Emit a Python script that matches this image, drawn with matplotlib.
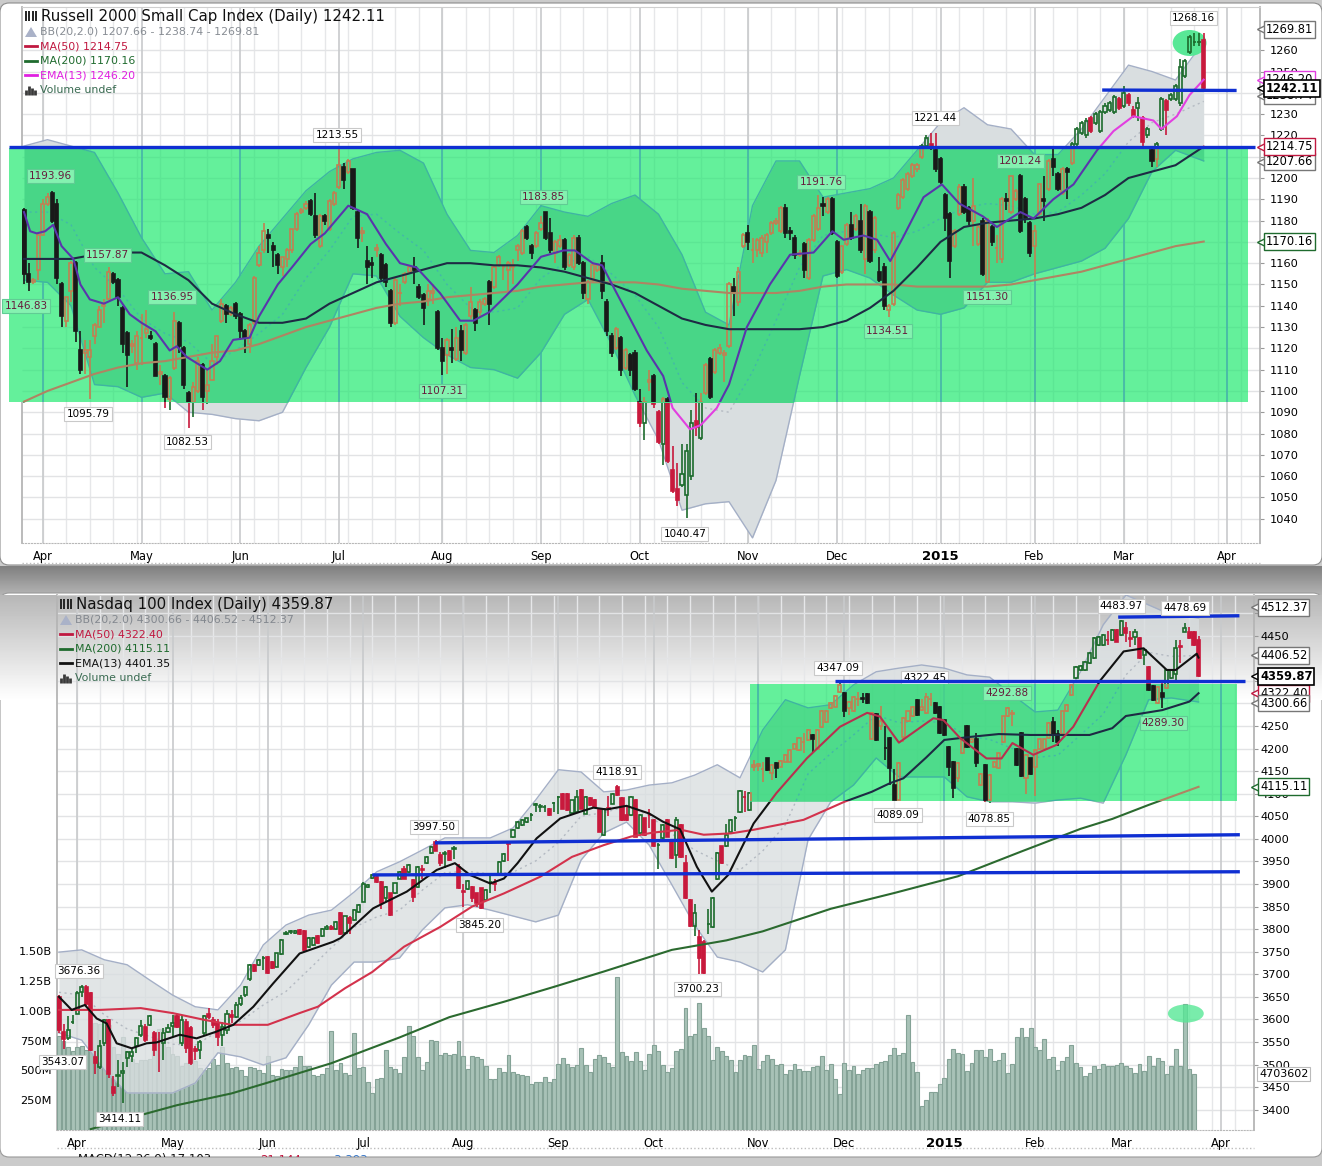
import numpy as np
import matplotlib
matplotlib.use("Agg")
import matplotlib.pyplot as plt
from matplotlib.patches import Rectangle, Ellipse, FancyBboxPatch, Polygon

W, H = 1322, 1166

months = ["Apr", "May", "Jun", "Jul", "Aug", "Sep", "Oct", "Nov", "Dec", "2015", "Feb", "Mar", "Apr"]
month_days = [4, 25, 46, 67, 89, 110, 131, 154, 173, 195, 215, 234, 256]
line_days = list(range(0, 250, 5)) + [251]

# Russell 2000
rut_open = [1185,1155,1151,1157,1173,1188,1193,1188,1150,1133,
    1147,1160,1119,1118,1116,1126,1130,1140,1143,1155,
    1152,1139,1127,1121,1113,1125,1127,1126,1122,1108,
    1107,1096,1111,1132,1120,1099,1095,1100,1112,1100,
    1105,1116,1133,1140,1136,1141,1136,1128,1122,1132,
    1159,1166,1173,1168,1164,1158,1162,1166,1176,1184,
    1186,1189,1182,1168,1182,1176,1188,1196,1205,1203,
    1204,1184,1174,1161,1160,1166,1164,1159,1147,1132,
    1146,1151,1156,1158,1149,1145,1143,1146,1137,1120,
    1117,1120,1115,1128,1118,1135,1138,1137,1141,1151,
    1149,1159,1158,1157,1158,1166,1165,1177,1168,1168,
    1176,1184,1174,1165,1168,1171,1159,1158,1172,1160,
    1143,1152,1157,1160,1142,1126,1120,1125,1111,1117,
    1118,1095,1085,1104,1107,1090,1075,1096,1063,1054,
    1056,1051,1060,1086,1078,1099,1115,1109,1118,1117,
    1121,1149,1142,1168,1174,1166,1166,1165,1170,1174,
    1179,1175,1186,1175,1172,1164,1169,1153,1171,1176,
    1188,1184,1190,1170,1156,1169,1178,1176,1180,1162,
    1184,1166,1156,1158,1138,1141,1186,1191,1195,1201,
    1204,1210,1215,1216,1213,1209,1192,1183,1168,1183,
    1196,1186,1180,1169,1180,1151,1177,1167,1162,1190,
    1184,1190,1201,1190,1179,1168,1183,1190,1195,1209,
    1202,1193,1204,1207,1216,1221,1220,1228,1226,1222,
    1231,1232,1231,1237,1234,1239,1232,1233,1228,1220,
    1213,1209,1223,1236,1237,1237,1235,1248,1259,1264,
    1264,1265]
rut_close = [1155,1151,1152,1173,1188,1191,1180,1153,1135,1144,
    1160,1128,1110,1119,1119,1131,1138,1141,1156,1151,
    1144,1122,1117,1122,1126,1125,1129,1125,1107,1109,
    1097,1106,1133,1121,1103,1095,1102,1114,1097,1103,
    1114,1126,1141,1136,1139,1135,1128,1125,1131,1153,
    1165,1175,1172,1166,1159,1163,1166,1176,1183,1185,
    1188,1183,1173,1182,1180,1189,1193,1206,1199,1208,
    1186,1172,1175,1158,1159,1167,1153,1151,1132,1152,
    1146,1155,1158,1157,1144,1139,1147,1147,1120,1114,
    1124,1119,1125,1119,1131,1142,1132,1142,1143,1141,
    1158,1163,1158,1160,1159,1168,1175,1172,1165,1174,
    1179,1172,1166,1170,1171,1158,1164,1172,1160,1146,
    1151,1159,1159,1147,1128,1118,1129,1110,1119,1110,
    1101,1085,1095,1105,1094,1076,1096,1067,1053,1049,
    1061,1072,1085,1083,1095,1112,1097,1119,1120,1118,
    1150,1146,1156,1173,1170,1166,1171,1172,1173,1179,
    1180,1186,1174,1174,1164,1165,1157,1171,1182,1186,
    1187,1190,1174,1154,1168,1178,1172,1182,1166,1187,
    1161,1181,1152,1140,1140,1174,1192,1199,1202,1206,
    1206,1215,1219,1214,1204,1198,1181,1161,1175,1196,
    1184,1180,1187,1177,1155,1180,1170,1167,1190,1189,
    1201,1194,1175,1181,1165,1175,1197,1189,1208,1205,
    1195,1204,1203,1216,1223,1226,1227,1222,1230,1231,
    1234,1235,1238,1233,1240,1235,1229,1235,1217,1223,
    1208,1216,1237,1232,1239,1243,1252,1255,1266,1264,
    1264,1242.11]
rut_high = [1186,1160,1153,1174,1190,1193,1194,1190,1151,1144,
    1161,1161,1128,1124,1124,1132,1140,1143,1158,1156,
    1153,1140,1128,1124,1128,1136,1138,1128,1123,1112,
    1108,1107,1137,1133,1121,1100,1104,1116,1113,1110,
    1122,1126,1143,1141,1140,1142,1137,1129,1132,1154,
    1168,1179,1176,1170,1165,1163,1167,1176,1184,1186,
    1189,1190,1193,1183,1183,1190,1194,1214,1207,1209,
    1204,1185,1177,1168,1163,1169,1165,1160,1148,1153,
    1150,1156,1159,1163,1150,1146,1150,1150,1138,1125,
    1125,1129,1130,1131,1132,1149,1139,1143,1144,1152,
    1159,1164,1159,1161,1162,1169,1176,1178,1169,1175,
    1182,1184,1181,1171,1173,1172,1165,1173,1173,1161,
    1152,1160,1160,1164,1143,1127,1130,1126,1120,1118,
    1119,1101,1097,1110,1108,1091,1097,1097,1074,1066,
    1075,1075,1091,1099,1099,1113,1116,1120,1122,1119,
    1151,1153,1158,1174,1178,1172,1172,1173,1174,1180,
    1181,1187,1188,1177,1173,1166,1170,1172,1183,1192,
    1191,1191,1191,1171,1168,1179,1184,1183,1188,1188,
    1185,1182,1163,1160,1141,1175,1193,1200,1203,1207,
    1207,1216,1220,1221,1221,1210,1193,1184,1176,1197,
    1197,1187,1200,1178,1181,1181,1178,1173,1191,1193,
    1201,1195,1202,1191,1180,1178,1197,1201,1209,1214,
    1203,1205,1205,1217,1224,1227,1228,1229,1231,1232,
    1235,1236,1239,1238,1243,1240,1234,1238,1229,1224,
    1214,1217,1238,1237,1240,1244,1256,1256,1267,1268,
    1268,1268]
rut_low = [1150,1147,1150,1152,1173,1187,1179,1150,1130,1130,
    1142,1123,1108,1108,1096,1122,1130,1132,1143,1150,
    1140,1118,1102,1118,1110,1112,1125,1124,1107,1103,
    1092,1091,1110,1118,1101,1082.5,1088,1099,1091,1094,
    1105,1112,1132,1132,1135,1134,1124,1118,1118,1131,
    1158,1165,1165,1158,1155,1154,1158,1165,1175,1183,
    1185,1182,1172,1167,1178,1175,1187,1195,1195,1202,
    1185,1167,1170,1150,1153,1163,1152,1149,1130,1131,
    1140,1150,1155,1150,1143,1131,1140,1141,1119,1107.3,
    1108,1113,1114,1114,1117,1134,1128,1135,1140,1131,
    1148,1158,1152,1147,1150,1161,1164,1171,1162,1167,
    1175,1171,1165,1160,1167,1157,1158,1157,1159,1143,
    1141,1151,1156,1143,1126,1116,1119,1107,1110,1107,
    1100,1083,1077,1100,1092,1075,1065,1066,1052,1046,
    1055,1040.5,1058,1079,1077,1098,1096,1108,1117,1104,
    1120,1135,1140,1167,1166,1160,1163,1163,1165,1173,
    1178,1174,1172,1171,1162,1163,1153,1152,1170,1175,
    1182,1183,1173,1153,1155,1168,1171,1175,1165,1155,
    1160,1165,1151,1138,1134.5,1140,1185,1190,1194,1200,
    1203,1209,1214,1213,1203,1197,1175,1153,1167,1182,
    1183,1178,1168,1168,1154,1151.3,1168,1160,1160,1185,
    1183,1189,1174,1179,1163,1153.6,1182,1180,1194,1201,
    1194,1192,1190,1206,1215,1220,1219,1221,1225,1221,
    1230,1231,1230,1232,1233,1234,1228,1227,1215,1219,
    1205,1205,1222,1220,1236,1236,1234,1247,1258,1262,
    1262,1242]

rut_bb_hi = [1215,1218,1215,1212,1193,1172,1155,1156,1138,1151,1168,1181,1194,1203,1209,1212,1213,1207,1183,1166,
    1165,1173,1187,1184,1182,1188,1192,1183,1164,1137,1131,1187,1208,1208,1191,1193,1195,1200,1213,1226,
    1233,1225,1223,1211,1211,1223,1238,1253,1250,1246,1264]
rut_bb_lo = [1152,1151,1140,1103,1102,1097,1099,1090,1089,1087,1086,1090,1111,1130,1155,1154,1135,1125,1117,1111,
    1110,1106,1118,1136,1143,1122,1098,1077,1044,1047,1048,1031,1058,1107,1154,1157,1153,1145,1138,1136,
    1139,1151,1151,1155,1158,1161,1167,1181,1203,1213,1208]
rut_bb_mid = [1184,1184,1178,1158,1148,1134,1127,1123,1113,1119,1127,1136,1153,1166,1182,1183,1174,1166,1150,1139,
    1137,1139,1153,1160,1163,1155,1145,1130,1104,1092,1090,1109,1133,1158,1173,1175,1174,1172,1175,1181,
    1186,1188,1187,1183,1184,1192,1202,1217,1226,1230,1236]
rut_ma50 = [1162,1162,1162,1164,1165,1165,1159,1152,1141,1136,1132,1132,1134,1141,1146,1151,1154,1157,1160,1160,
    1159,1159,1158,1156,1153,1150,1146,1140,1134,1131,1129,1129,1129,1129,1130,1133,1139,1147,1158,1170,
    1177,1179,1180,1181,1183,1186,1192,1200,1203,1206,1214.75]
rut_ma200 = [1095,1100,1104,1108,1111,1113,1114,1116,1118,1119,1122,1126,1130,1133,1136,1139,1141,1142,1144,1145,
    1146,1147,1149,1150,1151,1151,1151,1150,1148,1147,1146,1146,1146,1147,1149,1150,1150,1150,1149,1149,
    1149,1149,1150,1152,1154,1156,1159,1162,1165,1168,1170.16]
rut_ema_days = [0,1.3,2.7,4.5,6.2,8,10.5,12,14,17,20,22.5,25,28,31,32.5,34.6,39,41.7,44.5,48,50,54,57,61,64,69,73,77,80,83.5,
    88.5,92.8,95.6,99,105,110,114.8,117.2,121,123,126.8,132.5,136,138,141.7,144,147.4,150,153.8,158.7,163,168,
    172,174.4,178.6,181.5,184.3,187,191.4,195.3,199,204,207,212,214.8,219,223.3,228.3,231.8,236,240.3,242,245.3,248,251]
rut_ema = [1184,1175,1174,1175,1178,1168,1162,1150,1143,1141,1144,1136,1132,1128,1119,1121,1116,1110,1114,1124,1125,1135,1150,1158,1169,1174,1187,1183,1169,1160,1158,
    1146,1133,1133,1137,1150,1163,1166,1166,1160,1159,1143,1119,1107,1092,1082,1084,1092,1103,1130,1150,1164,1165,
    1175,1171,1173,1171,1161,1172,1191,1197,1188,1182,1177,1184,1181,1190,1197,1213,1222,1229,1227,1223,1229,1239,1246.2]

rut_label_text = ["1146.83","1193.96","1157.87","1136.95","1095.79","1082.53","1213.55","1107.31",
    "1183.85","1040.47","1191.76","1134.51","1221.44","1201.24","1151.30","1268.16"]
rut_label_days = [0.4,5.7,17.7,31.5,13.6,34.7,66.6,89,110.6,140.6,169.6,183.8,193.9,212,204.9,248.9]
rut_label_prices = [1140,1201,1164,1144,1089,1076,1220,1100,1191,1033,1198,1128,1228,1208,1144,1275]
rut_ticks = list(range(1040, 1261, 10))
rut_tags = [1269.81, 1207.66, 1214.75, 1170.16, 1246.20, 1238.74, 1242.11]
rut_legend = ["BB(20,2.0) 1207.66 - 1238.74 - 1269.81", "MA(50) 1214.75", "MA(200) 1170.16", "EMA(13) 1246.20", "Volume undef"]
rut_levels = [([-3.2, 262], [1214.6, 1214.6]), ([229.4, 258], [1241.3, 1241.1])]
rut_zone = (-3.2, 260.4, 1095, 1214.1)

# Nasdaq 100
ndx_open = [3650,3573,3558,3595,3613,3660,3672,3658,3517,3495,
    3547,3598,3451,3474,3481,3514,3518,3540,3565,3584,
    3588,3569,3551,3547,3572,3585,3607,3547,3595,3580,
    3535,3532,3569,3612,3598,3591,3565,3577,3610,3605,
    3634,3654,3689,3720,3720,3735,3738,3728,3717,3745,
    3790,3793,3792,3797,3795,3760,3765,3784,3785,3800,
    3805,3800,3835,3791,3824,3820,3838,3861,3893,3913,
    3916,3905,3868,3879,3879,3912,3934,3927,3908,3894,
    3932,3947,3969,3992,3964,3967,3973,3978,3938,3885,
    3888,3894,3879,3890,3864,3905,3901,3920,3950,3990,
    4003,4023,4030,4038,4053,4075,4071,4070,4067,4080,
    4092,4100,4100,4057,4060,4108,4056,4090,4086,4067,
    4008,4068,4078,4115,4090,4052,4053,4086,4012,4045,
    4053,4042,3986,4001,4042,3994,3964,4030,3946,3864,
    3806,3783,3772,3812,3805,3910,3983,3983,4016,4045,
    4060,4093,4064,4160,4162,4155,4178,4145,4167,4160,
    4171,4171,4200,4197,4215,4219,4230,4200,4248,4259,
    4289,4293,4326,4324,4289,4282,4309,4311,4321,4222,
    4276,4250,4202,4223,4119,4087,4226,4260,4271,4307,
    4285,4278,4309,4300,4293,4263,4204,4170,4134,4189,
    4250,4215,4222,4119,4163,4087,4160,4156,4215,4271,
    4277,4200,4234,4134,4178,4160,4200,4200,4223,4259,
    4233,4233,4282,4319,4356,4374,4374,4389,4400,4429,
    4429,4441,4440,4463,4451,4466,4444,4448,4444,4407,
    4381,4339,4300,4322,4333,4356,4366,4426,4459,4459,
    4459,4440]
ndx_close = [3576,3556,3577,3595,3658,3672,3635,3532,3503,3540,
    3598,3480,3436,3477,3485,3528,3528,3558,3586,3554,
    3608,3532,3550,3569,3582,3592,3584,3598,3536,3503,
    3530,3551,3607,3605,3588,3562,3584,3613,3606,3632,
    3647,3672,3720,3708,3732,3735,3702,3713,3746,3776,
    3792,3795,3795,3790,3754,3780,3780,3770,3800,3805,
    3800,3815,3790,3828,3813,3842,3853,3899,3898,3920,
    3905,3857,3894,3831,3901,3927,3912,3942,3872,3938,
    3930,3960,3982,3974,3946,3968,3953,3979,3890,3883,
    3907,3868,3857,3846,3886,3905,3900,3949,3966,3989,
    4019,4038,4041,4045,4053,4076,4072,4070,4053,4080,
    4093,4067,4064,4085,4093,4067,4093,4075,4071,4016,
    4067,4067,4100,4097,4042,4042,4093,4005,4053,4008,
    4052,3983,3986,4030,4005,3957,4042,3960,3868,3806,
    3835,3735,3702,3812,3868,3969,3946,4008,4042,4046,
    4105,4092,4101,4164,4165,4155,4153,4163,4156,4173,
    4186,4197,4211,4223,4215,4241,4221,4241,4284,4284,
    4300,4316,4341,4282,4304,4315,4309,4310,4300,4278,
    4219,4262,4201,4156,4086,4167,4267,4282,4293,4274,
    4293,4315,4309,4278,4234,4230,4160,4112,4167,4222,
    4204,4220,4167,4143,4086,4141,4171,4189,4271,4289,
    4278,4163,4138,4186,4144,4197,4222,4220,4256,4230,
    4215,4282,4296,4341,4381,4383,4392,4411,4444,4448,
    4452,4440,4463,4437,4483,4455,4443,4459,4400,4418,
    4330,4308,4337,4315,4374,4374,4422,4425,4466,4444,
    4430,4359.87]
ndx_high = [3655,3590,3607,3610,3662,3676.4,3676,3660,3530,3555,
    3600,3600,3475,3510,3505,3530,3535,3560,3598,3590,
    3610,3575,3573,3580,3590,3610,3612,3610,3600,3585,
    3540,3555,3610,3625,3605,3600,3595,3620,3620,3638,
    3655,3675,3722,3722,3734,3740,3740,3730,3748,3778,
    3795,3798,3798,3800,3797,3782,3782,3786,3802,3808,
    3808,3818,3838,3830,3828,3845,3855,3905,3900,3922,
    3918,3907,3896,3881,3903,3929,3940,3944,3910,3940,
    3942,3962,3984,3997.5,3970,3972,3975,3985,3945,3900,
    3909,3896,3881,3892,3888,3920,3910,3951,3968,3995,
    4021,4040,4043,4047,4057,4080,4076,4074,4069,4082,
    4095,4102,4102,4087,4108,4110,4095,4092,4088,4069,
    4069,4095,4102,4118.9,4092,4070,4095,4088,4055,4047,
    4065,4044,3990,4032,4044,3996,4048,4032,3965,3866,
    3856,3798,3776,3845,3870,3971,3985,4032,4044,4050,
    4107,4105,4103,4175,4167,4170,4180,4165,4169,4175,
    4188,4199,4213,4225,4235,4243,4232,4243,4286,4286,
    4302,4318,4347.1,4326,4306,4317,4325,4322,4323,4280,
    4278,4295,4250,4225,4155,4170,4269,4284,4295,4309,
    4310,4322,4322,4302,4295,4265,4206,4172,4169,4224,
    4252,4222,4235,4145,4165,4143,4173,4191,4273,4292.9,
    4285,4202,4236,4188,4180,4199,4224,4222,4258,4270,
    4240,4284,4298,4343,4383,4385,4394,4413,4446,4450,
    4454,4460,4465,4465,4484,4480,4460,4465,4446,4420,
    4383,4341,4339,4352,4376,4376,4440,4440,4478.7,4470,
    4461,4450]
ndx_low = [3570,3535,3555,3590,3611,3650,3630,3530,3480,3490,
    3540,3470,3430,3450,3414.1,3495,3505,3525,3560,3550,
    3585,3520,3484,3510,3570,3560,3580,3540,3525,3500,
    3510,3512,3565,3600,3580,3540,3540,3568,3592,3602,
    3630,3650,3685,3706,3718,3710,3700,3711,3715,3743,
    3788,3790,3790,3788,3752,3758,3763,3768,3783,3798,
    3798,3798,3788,3789,3790,3818,3836,3859,3890,3911,
    3903,3845,3860,3829,3877,3910,3910,3925,3860,3892,
    3910,3945,3967,3972,3940,3935,3951,3955,3888,3850,
    3886,3860,3848,3845.2,3862,3880,3885,3918,3948,3950,
    4001,4021,4028,4036,4040,4060,4060,4060,4051,4060,
    4055,4065,4062,4055,4058,4065,4054,4073,4069,4014,
    4006,4050,4076,4095,4040,4040,4051,4003,4010,4006,
    4025,3981,3934,3999,4003,3955,3935,3958,3866,3804,
    3785,3700.5,3700.2,3790,3803,3908,3944,3981,4014,4018,
    4058,4060,4062,4150,4150,4125,4151,4130,4135,4158,
    4169,4169,4198,4195,4190,4217,4190,4198,4246,4257,
    4287,4291,4324,4270,4275,4280,4295,4300,4298,4220,
    4217,4240,4175,4120,4085,4085,4215,4258,4269,4272,
    4283,4276,4295,4276,4232,4228,4140,4090,4125,4187,
    4202,4213,4160,4117,4081,4079,4158,4154,4213,4269,
    4250,4161,4136,4100,4142,4094,4198,4198,4221,4215,
    4205,4231,4280,4317,4354,4372,4372,4387,4398,4427,
    4427,4430,4438,4435,4449,4435,4425,4430,4398,4385,
    4328,4306,4298,4289.3,4331,4354,4345,4390,4457,4442,
    4428,4358]

ndx_volume = [790,750,700,660,700,705,670,680,900,890,920,880,700,640,780,660,600,560,590,590,
    600,680,850,840,700,640,620,540,560,600,580,520,500,520,600,550,700,560,520,530,
    500,450,530,520,500,480,618,460,450,510,500,500,530,618,540,540,460,450,470,520,
    830,500,560,480,460,815,520,530,400,310,430,440,674,530,510,
    478,612,871,787,612,500,568,759,745,632,646,632,640,745,618,511,618,612,596,539,
    430,430,520,486,632,483,472,464,450,388,407,399,444,407,427,556,601,556,528,545,
    688,545,486,596,632,612,562,528,1284,655,618,576,655,576,506,640,711,660,542,486,
    520,660,680,1026,792,809,1068,857,787,590,697,660,618,590,483,590,632,618,711,511,
    576,632,598,548,553,472,506,553,511,492,492,528,534,618,506,553,430,303,562,500,
    534,472,500,520,520,556,568,576,632,688,626,646,969,568,486,205,253,317,317,388,
    435,598,680,646,640,492,562,674,669,612,680,576,590,646,478,553,781,857,781,857,
    697,674,767,598,612,506,576,612,711,562,528,450,478,534,514,556,539,539,548,562,
    539,520,478,553,497,618,534,601,576,472,539,680,534,1054,511,472]

ndx_bb_hi = [3749,3754,3732,3721,3687,3654,3628,3621,3676,3765,3809,3831,3842,3882,3927,3949,3975,4002,4002,4002,
    4024,4086,4153,4148,4104,4108,4119,4124,4141,4164,4135,4241,4308,4290,4297,4341,4370,4378,4385,4378,
    4363,4358,4319,4281,4285,4370,4474,4540,4518,4496,4489]
ndx_bb_lo = [3570,3554,3488,3437,3437,3437,3459,3526,3517,3499,3515,3588,3676,3727,3727,3736,3798,3847,3854,3842,
    3829,3816,3831,3953,4013,4037,3986,3898,3809,3738,3727,3705,3754,3998,4082,4119,4179,4137,4137,4137,
    4093,4082,4082,4079,4086,4090,4079,4186,4308,4312,4303]
ndx_bb_mid = [3660,3654,3610,3579,3562,3545,3543,3573,3596,3632,3662,3710,3759,3804,3827,3842,3886,3925,3928,3922,
    3926,3951,3992,4050,4058,4072,4052,4011,3975,3951,3931,3973,4031,4144,4189,4230,4274,4257,4261,4257,
    4228,4220,4200,4180,4185,4230,4276,4363,4413,4404,4406]
ndx_ma50_days = [0,9,18,25,32,38,46,53,57,63,69,76,84,91,98,106,113,120,126,131,137,142,148,153,164,173,179,183,186,191,195,201,207,214,227,232,235,243,249,251]
ndx_ma50 = [3621,3621,3625,3614,3599,3588,3588,3614,3628,3669,3705,3761,3805,3850,3879,3916,3960,3986,4005,4014,4020,4009,4012,4020,4042,4082,4104,4123,4134,4180,4219,4226,4232,4230,4230,4245,4272,4285,4304,4322.4]
ndx_ma200_days = [7,18,26,38,48,60,75,86,98,109,120,135,147,155,170,184,198,212,225,232,240,251]
ndx_ma200 = [3357,3388,3410,3436,3466,3503,3560,3605,3639,3672,3706,3754,3775,3795,3845,3880,3917,3972,4022,4044,4075,4115.11]
ndx_ema_days = [0,2.8,5.7,8.3,10.5,12.7,16,19.3,21.5,26.6,30.3,34.7,38.4,42.8,47.2,53,60.4,62,69.2,76.6,83.2,87.2,90.5,95,98,101,105.2,110.4,114.8,117.7,120.6,125,130,133,136.8,140.5,143.8,147.4,153,
    158,164.7,172,178,180.8,185,192.6,194.8,198.5,204.3,207.6,210,214.6,219.7,223.4,229.3,234.5,238.9,244,246,250.6,251]
ndx_ema = [3650,3621,3632,3602,3591,3547,3536,3547,3549,3566,3558,3573,3588,3628,3680,3746,3772,3780,3846,3883,3931,3946,3920,3901,3912,3946,4001,4045,4060,4069,4065,4073,4056,4038,4021,3938,3883,3920,4034,
    4101,4178,4248,4279,4271,4213,4267,4263,4223,4178,4178,4212,4186,4208,4248,4350,4415,4422,4374,4374,4410,4401.35]

ndx_label_text = ["3676.36","3543.07","3414.11","3997.50","3845.20","4118.91","3700.23","4347.09",
    "4292.88","4089.09","4078.85","4289.30","4483.97","4478.69"]
ndx_label_days = [4.4,0.7,13.4,82.6,92.7,122.9,140.7,171.6,208.8,184.8,204.9,243.2,234,248]
ndx_label_prices = [3707,3506,3380,4026,3809,4148,3667,4378,4323,4053,4044,4257,4516,4511]
ndx_ticks = list(range(3400, 4501, 50))
ndx_tags = [4406.52, 4512.37, 4322.40, 4300.66, 4115.11, 4359.87]
ndx_legend = ["BB(20,2.0) 4300.66 - 4406.52 - 4512.37", "MA(50) 4322.40", "MA(200) 4115.11", "EMA(13) 4401.35", "Volume undef"]
ndx_levels = [([233.3, 260], [4491, 4494]), ([171, 261.2], [4350, 4350]), ([82.8, 260.1], [3991, 4009]), ([69, 260.1], [3920, 3927])]
ndx_zone = (152.2, 259.5, 4084, 4343)
vol_ticks = [250, 500, 750, 1000, 1250, 1500]
vol_tick_labels = ["250M", "500M", "750M", "1.00B", "1.25B", "1.50B"]

plain = dict(up="#1c6b2c", down="#c8193c", ma50="#d3324c", ma200="#2b6a2f", band="#d9dee0", edge="#a4afc6", mid="#b4bac2")
zoned = dict(up="#c27f52", down="#191919", ma50="#1e2a44", ma200="#b08462", band="#48d687", edge="#3fb4a2", mid="#43b8a8",
             minor="#5ce694", major="#48b8a8", hline="#5ce694", fill="#64f09b")


def pixel_axes(left, top, right, bottom, zorder):
    ax = fig.add_axes([left / W, 1 - bottom / H, (right - left) / W, (bottom - top) / H], zorder=zorder)
    ax.patch.set_alpha(0)
    return ax


def set_clip(artists, clip):
    if clip is None:
        return
    for a in artists:
        a.set_clip_path(clip)


def draw_candles(ax, o, h, l, c, pal, z, clip=None):
    o, h, l, c = np.array(o), np.array(h), np.array(l), np.array(c)
    days = np.arange(len(o))
    top, bot = np.maximum(o, c), np.minimum(o, c)
    up = c >= o
    artists = []
    for mask, col in ((up, pal["up"]), (~up, pal["down"])):
        artists.append(ax.vlines(days[mask], top[mask], h[mask], color=col, lw=1.2, zorder=z))
        artists.append(ax.vlines(days[mask], l[mask], bot[mask], color=col, lw=1.2, zorder=z))
    artists += list(ax.bar(days[up], (top - bot)[up], bottom=bot[up], width=0.68, facecolor="none",
                           edgecolor=pal["up"], linewidth=1.2, zorder=z))
    artists += list(ax.bar(days[~up], (top - bot)[~up], bottom=bot[~up], width=0.68, facecolor=pal["down"],
                           edgecolor=pal["down"], linewidth=1.2, zorder=z))
    set_clip(artists, clip)


def draw_layer(ax, s, pal, ema_col, z, clip=None):
    artists = [ax.fill_between(line_days, s["lo"], s["hi"], color=pal["band"], lw=0, zorder=z, alpha=s["alpha"])]
    artists += ax.plot(line_days, s["hi"], color=pal["edge"], lw=1, zorder=z + 0.1)
    artists += ax.plot(line_days, s["lo"], color=pal["edge"], lw=1, zorder=z + 0.1)
    artists += ax.plot(line_days, s["mid"], color=pal["mid"], lw=1, ls=(0, (1.5, 2.5)), zorder=z + 0.1)
    set_clip(artists, clip)
    draw_candles(ax, s["o"], s["h"], s["l"], s["c"], pal, z + 1, clip)
    lines = ax.plot(s["ma200_x"], s["ma200"], color=pal["ma200"], lw=1.5, zorder=z + 2)
    lines += ax.plot(s["ma50_x"], s["ma50"], color=pal["ma50"], lw=1.5, zorder=z + 2)
    lines += ax.plot(s["ema_x"], s["ema"], color=ema_col, lw=1.5, zorder=z + 2)
    set_clip(lines, clip)


def draw_price_tag(ax, value, colour, pixel_width, bold=False):
    x = 1 + 6 / pixel_width
    trans = ax.get_yaxis_transform()
    ax.plot([1 + 1 / pixel_width], [value], marker="<", ms=6, mfc="white", mec=colour, mew=1,
            transform=trans, clip_on=False, zorder=50)
    ax.text(x, value, f"{value:.2f}", transform=trans, ha="left", va="center",
            fontsize=8.3, fontweight="bold" if bold else "normal", color="black", clip_on=False, zorder=50,
            bbox=dict(boxstyle="square,pad=0.16", fc="white", ec=colour, lw=1.2 if bold else 1))


def draw_panel(box, s, zone, ticks, ema_plain, ema_zone, tags, tag_colours, volume=None):
    left, top, right, bottom = box
    pw = right - left
    base = pixel_axes(left, top, right, bottom, 2)
    ax = pixel_axes(left, top, right, bottom, 4)
    scale = s["px_per_day"]
    x_lim = ((left - s["px0"]) / scale, (right - s["px0"]) / scale)
    for a in (base, ax):
        a.set_xlim(*x_lim)
        a.set_ylim(*s["ylim"])
        a.autoscale(False)

    # grid stays on the bottom layer so that volume bars cover it
    minor_days = np.arange(4, 262, 5)
    base.vlines(minor_days, *s["ylim"], color="#e6e7e9", lw=1, zorder=1)
    base.vlines(month_days, *s["ylim"], color="#c8cacc", lw=1.2, zorder=1.5)
    base.hlines(ticks, *x_lim, color="#e2e3e5", lw=1, zorder=1)
    base.set_xticks(month_days)
    base.set_xticklabels(months, fontsize=8.3)
    base.get_xticklabels()[9].set_fontweight("bold")
    base.get_xticklabels()[9].set_fontsize(9.5)
    base.tick_params(axis="x", length=0, pad=5)
    base.yaxis.tick_right()
    base.set_yticks(ticks)
    base.set_yticklabels([str(t) for t in ticks], fontsize=8.2)
    base.tick_params(axis="y", length=3, pad=s["tick_pad"], color="#999999")
    for side in ("left", "right"):
        base.spines[side].set_color("#b5b5b5")
        base.spines[side].set_linewidth(1.3)
    base.spines["top"].set_color("#cfcfcf")
    base.spines["bottom"].set_color("#b8b8b8")
    base.spines["bottom"].set_linestyle(":")
    ax.axis("off")

    if volume is not None:
        vol = pixel_axes(left, top, right, bottom, 3)
        vol.set_xlim(*x_lim)
        vol.set_ylim(0, 4493)
        vol.autoscale(False)
        vol.bar(np.arange(len(volume)), volume, width=0.86, color="#a8c2b7", edgecolor="#84a296", linewidth=0.8, zorder=2)
        vol.set_yticks(vol_ticks)
        vol.set_yticklabels(vol_tick_labels, fontsize=8.2)
        vol.tick_params(axis="y", length=0, pad=4)
        vol.set_xticks([])
        for sp in vol.spines.values():
            sp.set_visible(False)
        vol.add_patch(Ellipse((248.2, 978), 7.9, 152, fc="#58e896", ec="none", alpha=0.8, zorder=3))
        vol.text(1 + 5 / pw, 470.36, "4703602", transform=vol.get_yaxis_transform(), ha="left", va="center", fontsize=8, clip_on=False,
                 bbox=dict(boxstyle="square,pad=0.15", fc="white", ec="#bbbbbb", lw=0.8), zorder=9)

    draw_layer(ax, s, plain, ema_plain, 5)
    if volume is None:
        ax.add_patch(Ellipse((248, 1263.4), 7.2, 12.2, fc="#58e896", ec="none", zorder=5.5))

    z0, z1, y0, y1 = zone
    ax.add_patch(Rectangle((z0, y0), z1 - z0, y1 - y0, fc=zoned["fill"], ec="none", clip_on=False, zorder=20))
    clip_left = max(z0, x_lim[0])
    clip = Rectangle((clip_left, y0), z1 - clip_left, y1 - y0, transform=ax.transData)
    zone_grid = [ax.vlines(minor_days, y0, y1, color=zoned["minor"], lw=1, zorder=20.5),
                 ax.vlines(month_days, y0, y1, color=zoned["major"], lw=1.3, zorder=20.6),
                 ax.hlines(ticks, clip_left, z1, color=zoned["hline"], lw=1, zorder=20.5)]
    set_clip(zone_grid, clip)
    draw_layer(ax, s, zoned, ema_zone, 21, clip)

    for days, prices in s["levels"]:
        ax.plot(days, prices, color="#0f2fd2", lw=2.4, solid_capstyle="butt", clip_on=False, zorder=40)

    for text, day, price in zip(s["label_text"], s["label_days"], s["label_prices"]):
        inside = z0 <= day <= z1 and y0 <= price <= y1
        ax.text(day, price, text, ha="center", va="center", fontsize=7.5, clip_on=False, zorder=45,
                color="#651c3c" if inside else "black",
                bbox=dict(boxstyle="square,pad=0.2", fc="#84f2b0" if inside else "white",
                          ec="#60cc94" if inside else "#c9c9c9", lw=0.8))
    for value, colour in zip(tags, tag_colours):
        draw_price_tag(ax, value, colour, pw, bold=colour == "black")
    return base, ax


def draw_legend(x, y0, title, entries, colours):
    over.text(x + 16, y0, title, fontsize=10.8, va="center", color="#111111", zorder=6)
    over.vlines([x + 1, x + 4, x + 8, x + 11], y0 - 5, y0 + 5, color="#222222", lw=1.4)
    for i, (entry, col) in enumerate(zip(entries, colours)):
        y = y0 + 16 + i * 14.4
        over.text(x + 15, y, entry, fontsize=7.9, va="center", color=col)
        if i == 0:
            over.add_patch(Polygon([[x, y + 5], [x + 6, y - 5], [x + 12, y + 5]], fc="#aab2c8", ec="none"))
        elif i == 4:
            over.vlines([x + 1, x + 4, x + 7, x + 10], y + 5, [y, y - 4, y - 2, y], color="#3a3a3a", lw=2)
        else:
            over.plot([x, x + 12], [y, y], color=col, lw=2)


fig = plt.figure(figsize=(W / 100, H / 100), dpi=100, facecolor="white")

# window chrome behind both charts
back = fig.add_axes([0, 0, 1, 1], zorder=0)
back.add_patch(Rectangle((0, 0), W, H, fc="#cbcbcb", ec="none"))
back.imshow(np.linspace(0.5, 0.72, 32).reshape(-1, 1), extent=(0, W, 597, 566), cmap="gray", vmin=0, vmax=1, aspect="auto", zorder=1)
back.add_patch(FancyBboxPatch((0, 3), W, 562, boxstyle="round,pad=0,rounding_size=9", fc="white", ec="#8c8c8c", lw=0.8, zorder=2))
back.add_patch(FancyBboxPatch((0, 593), W, 564, boxstyle="round,pad=0,rounding_size=9", fc="white", ec="#9a9a9a", lw=0.8, zorder=2))
back.imshow(np.linspace(0.72, 1, 64).reshape(-1, 1), extent=(0, W, 700, 595), cmap="gray", vmin=0, vmax=1, aspect="auto", zorder=3)
back.set_xlim(0, W)
back.set_ylim(H, 0)
back.axis("off")
back.plot([22, 1260], [563, 563], color="#bdbdbd", lw=1, ls=":", zorder=4)
back.plot([57, 1254], [1148, 1148], color="#bdbdbd", lw=1, ls=":", zorder=4)

rut_series = dict(o=rut_open, h=rut_high, l=rut_low, c=rut_close, hi=rut_bb_hi, lo=rut_bb_lo, mid=rut_bb_mid,
                  ma50_x=line_days, ma50=rut_ma50, ma200_x=line_days, ma200=rut_ma200, ema_x=rut_ema_days, ema=rut_ema,
                  label_text=rut_label_text, label_days=rut_label_days, label_prices=rut_label_prices,
                  levels=rut_levels, alpha=1.0, px0=24, px_per_day=4.7, ylim=(1028.6, 1280.3), tick_pad=4)
draw_panel((22, 7, 1260, 543), rut_series, rut_zone, rut_ticks, "#e23fe0", "#5a35ac", rut_tags,
           ["#777777", "#777777", "#c01840", "#1f6b2e", "#e23fe0", "#777777", "black"])

ndx_series = dict(o=ndx_open, h=ndx_high, l=ndx_low, c=ndx_close, hi=ndx_bb_hi, lo=ndx_bb_lo, mid=ndx_bb_mid,
                  ma50_x=ndx_ma50_days, ma50=ndx_ma50, ma200_x=ndx_ma200_days, ma200=ndx_ma200, ema_x=ndx_ema_days, ema=ndx_ema,
                  label_text=ndx_label_text, label_days=ndx_label_days, label_prices=ndx_label_prices,
                  levels=ndx_levels, alpha=0.78, px0=59, px_per_day=4.54, ylim=(3355, 4540), tick_pad=2)
base2, ax2 = draw_panel((57, 595, 1254, 1130), ndx_series, ndx_zone, ndx_ticks, "#111111", "#b8304f", ndx_tags,
                        ["#777777", "#777777", "#c01840", "#777777", "#1f6b2e", "black"], volume=ndx_volume)
# sits half under the coloured zone in the reference
ax2.text(190.7, 4356, "4322.45", ha="center", va="center", fontsize=7.5, zorder=19,
         bbox=dict(boxstyle="square,pad=0.2", fc="white", ec="#c9c9c9", lw=0.8))

over = fig.add_axes([0, 0, 1, 1], zorder=8)
over.set_xlim(0, W)
over.set_ylim(H, 0)
over.axis("off")
over.patch.set_alpha(0)
draw_legend(25, 16, "Russell 2000 Small Cap Index (Daily) 1242.11", rut_legend, ["#888d94", "#c01840", "#1f6b2e", "#e020e0", "#3a6b52"])
draw_legend(60, 604, "Nasdaq 100 Index (Daily) 4359.87", ndx_legend, ["#83888f", "#c01840", "#1f6b2e", "#111111", "#3a6b52"])

# next panel of the window, only the top of its caption shows
panel_clip = Rectangle((0, 1148), W, 9, transform=over.transData)
for x, caption, col in [(78, "MACD(12,26,9) 17.103", "#111111"), (260, "21.144", "#c01840"), (330, "-3.393", "#3a78c8")]:
    t = over.text(x, 1160, caption, fontsize=8.4, va="center", color=col)
    t.set_clip_path(panel_clip)
    t.set_clip_on(True)

fig.savefig("out.png", dpi=100)
